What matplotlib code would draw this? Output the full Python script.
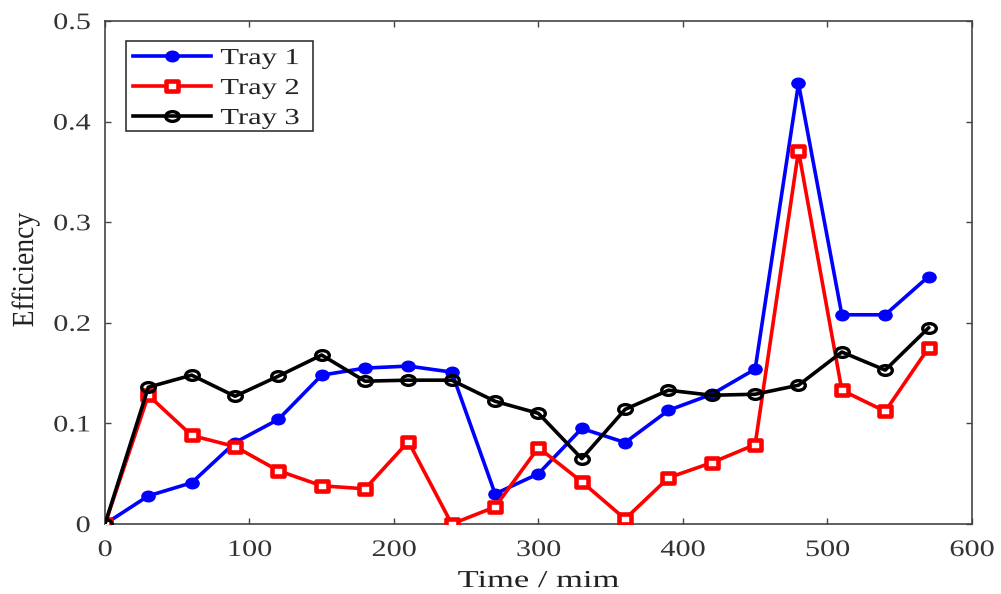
import matplotlib
matplotlib.use("Agg")
import matplotlib.pyplot as plt
from matplotlib.patheffects import AbstractPathEffect
from matplotlib.transforms import Affine2D
from matplotlib.path import Path
from matplotlib.patches import Rectangle

time_min = [0, 30, 60, 90, 120, 150, 180, 210, 240, 270, 300, 330, 360, 390, 420, 450, 480, 510, 540, 570]
tray1 = [0.0, 0.028, 0.041, 0.081, 0.104, 0.148, 0.155, 0.157, 0.151, 0.030, 0.050, 0.095, 0.081, 0.113, 0.129, 0.154, 0.438, 0.208, 0.208, 0.246]
tray2 = [0.0, 0.128, 0.088, 0.077, 0.053, 0.038, 0.035, 0.082, 0.0, 0.017, 0.076, 0.042, 0.005, 0.046, 0.061, 0.079, 0.371, 0.133, 0.112, 0.175]
tray3 = [0.0, 0.136, 0.148, 0.127, 0.147, 0.168, 0.142, 0.143, 0.143, 0.122, 0.110, 0.065, 0.114, 0.133, 0.128, 0.129, 0.138, 0.171, 0.153, 0.195]
labels = ["Tray 1", "Tray 2", "Tray 3"]
xticks = [0, 100, 200, 300, 400, 500, 600]
yticks = [0, 0.1, 0.2, 0.3, 0.4, 0.5]
yticklabels = ["0", "0.1", "0.2", "0.3", "0.4", "0.5"]


class Stretch(AbstractPathEffect):
    """Stretch text glyphs along / across the text direction (the reference image is widened)."""
    def __init__(self, sx=1.0, sy=1.0, ha='left'):
        super().__init__()
        self.sx, self.sy, self.ha = sx, sy, ha

    def draw_path(self, renderer, gc, tpath, affine, rgbFace=None):
        ext = tpath.get_extents()
        w = ext.x1
        shift = {'left': 0.0, 'center': -(self.sx - 1) * w / 2, 'right': -(self.sx - 1) * w}[self.ha]
        new = Affine2D().scale(self.sx, self.sy).translate(shift, 0) + affine
        renderer.draw_path(gc, tpath, new, rgbFace)


# widened marker shapes (reference picture is horizontally stretched)
dot = Path.unit_circle().transformed(Affine2D().scale(1.25, 1.0))
ring = Path.unit_circle().transformed(Affine2D().scale(1.4, 1.0))
rect = Path([(-1.3, -1), (1.3, -1), (1.3, 1), (-1.3, 1), (-1.3, -1)],
            [Path.MOVETO, Path.LINETO, Path.LINETO, Path.LINETO, Path.CLOSEPOLY])

plt.rcParams['font.family'] = ['Liberation Serif', 'DejaVu Serif']

fig = plt.figure(figsize=(10.01, 5.94), dpi=100)
ax = fig.add_axes([0.1049, 0.1178, 0.866, 0.8468])

ax.plot(time_min, tray1, color='#0000ff', lw=2.6, marker=dot, ms=9.5, mfc='#0000ff', mec='#0000ff', mew=1,
        label=labels[0], zorder=3)
ax.plot(time_min, tray2, color='#ff0000', lw=2.6, marker=rect, ms=8.5, mfc='white', mec='#ff0000', mew=3.3,
        label=labels[1], zorder=3)
ax.plot(time_min, tray3, color='black', lw=2.6, marker=ring, ms=9.8, mfc='none', mec='black', mew=2.4,
        label=labels[2], zorder=3)

ax.set_xlim(0, 600)
ax.set_ylim(0, 0.5)
ax.set_xticks(xticks)
ax.set_yticks(yticks)
ax.set_yticklabels(yticklabels)
ax.tick_params(direction='in', top=True, right=True, length=4.5, width=1, colors='#444444',
               labelsize=17, labelcolor='#333333')
ax.xaxis.set_tick_params(pad=11.5)
ax.yaxis.set_tick_params(pad=10.5)
for s in ax.spines.values():
    s.set_color('#444444')
    s.set_linewidth(1.2)

ax.set_xlabel('Time / mim', fontsize=17.5, color='#222222', va='baseline')
ax.xaxis.set_label_coords(0.5, -0.1252)
ax.set_ylabel('Efficiency', fontsize=17, color='#222222', va='baseline')
ax.yaxis.set_label_coords(-0.083, 0.505)
ax.xaxis.label.set_path_effects([Stretch(1.42, 1.0, 'center')])
ax.yaxis.label.set_path_effects([Stretch(1.17, 1.3, 'center')])

# legend frame
ax.add_patch(Rectangle((0.0242, 0.781), 0.2157, 0.179, transform=ax.transAxes, fc='white',
                       ec='#333333', lw=1.2, zorder=4))
leg = ax.legend(loc='upper left', bbox_to_anchor=(0.0242, 0.960), fontsize=16.5, frameon=False,
                borderpad=0.3, handlelength=3.4, labelspacing=0.39, handletextpad=0.42, borderaxespad=0)
leg.set_zorder(5)
for t in leg.get_texts():
    t.set_color('#222222')
    t.set_path_effects([Stretch(1.33, 1.0, 'left')])

fig.canvas.draw()
for t in ax.get_xticklabels():
    t.set_path_effects([Stretch(1.28, 1.0, 'center')])
for t in ax.get_yticklabels():
    t.set_path_effects([Stretch(1.28, 1.0, 'right')])

fig.savefig('out.png', dpi=100)
